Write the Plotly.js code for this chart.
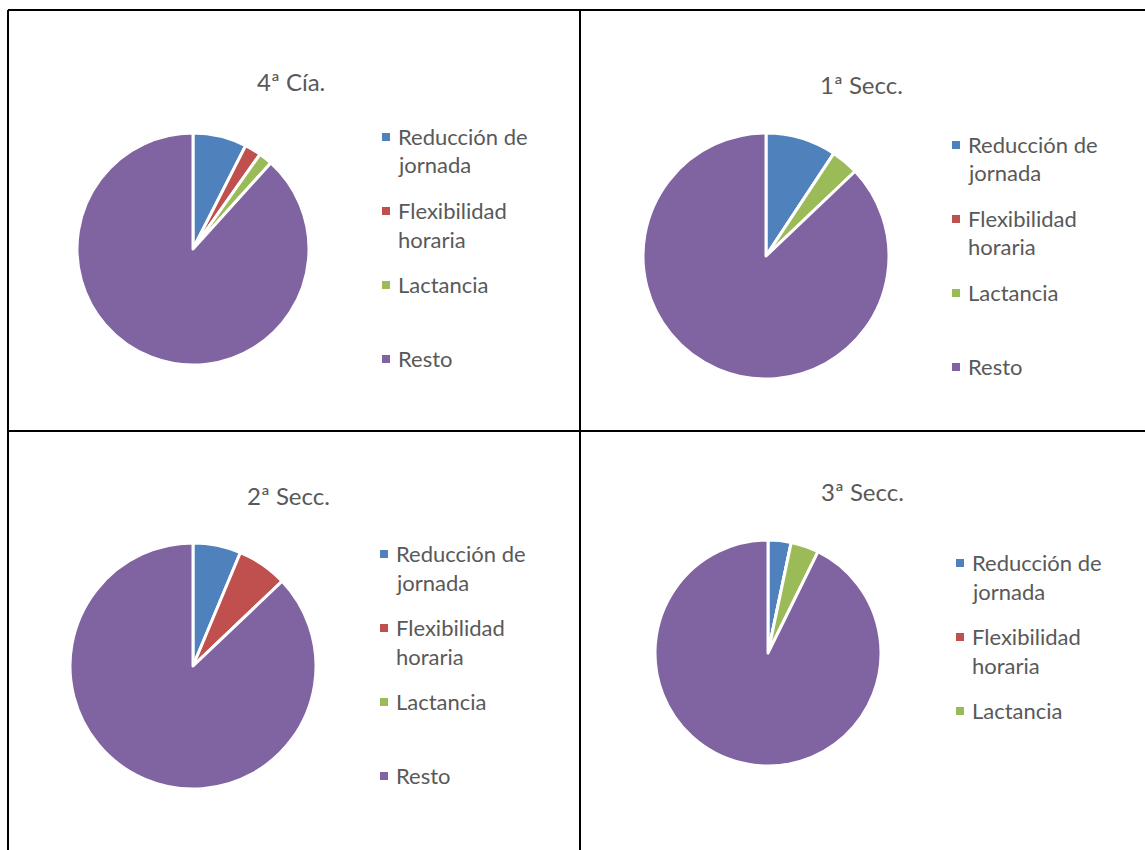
<!DOCTYPE html>
<html>
<head>
<meta charset="utf-8">
<script src="https://cdn.plot.ly/plotly-3.0.1.min.js"></script>
<style>html,body{margin:0;padding:0;background:#fff;}#chart{width:1145px;height:850px;}</style>
</head>
<body>
<div id="chart"></div>
<script>
// ---- data ----
const categories = ["Reducción de jornada", "Flexibilidad horaria", "Lactancia", "Resto"];
const legendLines = [["Reducción de", "jornada"], ["Flexibilidad", "horaria"], ["Lactancia"], ["Resto"]];
const titles = ["4ª Cía.", "1ª Secc.", "2ª Secc.", "3ª Secc."];
const values4Cia = [7.5, 2.3, 1.9, 88.3];
const values1Secc = [9.3, 0, 3.6, 87.1];
const values2Secc = [6.3, 6.6, 0, 87.1];
const values3Secc = [3.3, 0, 4.0, 92.7];
const colors = ["#4F81BD", "#C0504D", "#9BBB59", "#8064A2"];

// ---- layout helpers ----
const W = 1145, H = 850;
const px = x => x / W;
const py = y => 1 - y / H;

const panels = [
  {values: values4Cia, cx: 193, cy: 249, r: 116, tx: 291, ty: 82, lx: 382, ly: 137, n: 4},
  {values: values1Secc, cx: 766, cy: 256, r: 123, tx: 861, ty: 84, lx: 952, ly: 145, n: 4},
  {values: values2Secc, cx: 193, cy: 666, r: 123, tx: 288, ty: 495, lx: 380, ly: 554, n: 4},
  {values: values3Secc, cx: 768, cy: 653, r: 113, tx: 862, ty: 491, lx: 956, ly: 563, n: 3}
];

const font = "Lato, 'Open Sans', sans-serif";
const textColor = "#595959";
const traces = [];
const annotations = [];
const shapes = [];

panels.forEach((p, i) => {
  traces.push({
    type: "pie",
    labels: categories,
    values: p.values,
    sort: false,
    direction: "clockwise",
    rotation: 0,
    textinfo: "none",
    hoverinfo: "label+percent",
    showlegend: false,
    marker: {colors: colors, line: {color: "#ffffff", width: 3}},
    domain: {x: [px(p.cx - p.r), px(p.cx + p.r)], y: [py(p.cy + p.r), py(p.cy - p.r)]}
  });
  annotations.push({
    text: titles[i], x: px(p.tx), y: py(p.ty), xref: "paper", yref: "paper",
    xanchor: "center", yanchor: "middle", showarrow: false,
    font: {family: font, size: 24, color: textColor}
  });
  for (let k = 0; k < p.n; k++) {
    const yc = p.ly + k * 74;
    shapes.push({
      type: "rect", xref: "paper", yref: "paper",
      x0: px(p.lx), x1: px(p.lx + 8), y0: py(yc + 4), y1: py(yc - 4),
      fillcolor: colors[k], line: {width: 0}
    });
    legendLines[k].forEach((line, j) => {
      annotations.push({
        text: line, x: px(p.lx + 14), y: py(yc - 1 + j * 29), xref: "paper", yref: "paper",
        xanchor: "left", yanchor: "middle", showarrow: false,
        font: {family: font, size: 22, color: textColor}
      });
    });
  }
});

// table borders
const borderLines = [
  [8, 10, 8, 850], [8, 10, 1145, 10], [580, 10, 580, 850], [8, 431, 1145, 431]
];
borderLines.forEach(b => shapes.push({
  type: "line", xref: "paper", yref: "paper",
  x0: px(b[0]), y0: py(b[1]), x1: px(b[2]), y1: py(b[3]),
  line: {color: "#000000", width: 2}
}));

const layout = {
  width: W, height: H,
  margin: {l: 0, r: 0, t: 0, b: 0},
  paper_bgcolor: "#ffffff",
  showlegend: false,
  annotations: annotations,
  shapes: shapes
};

Plotly.newPlot("chart", traces, layout, {displayModeBar: false, staticPlot: true});
</script>
</body>
</html>
